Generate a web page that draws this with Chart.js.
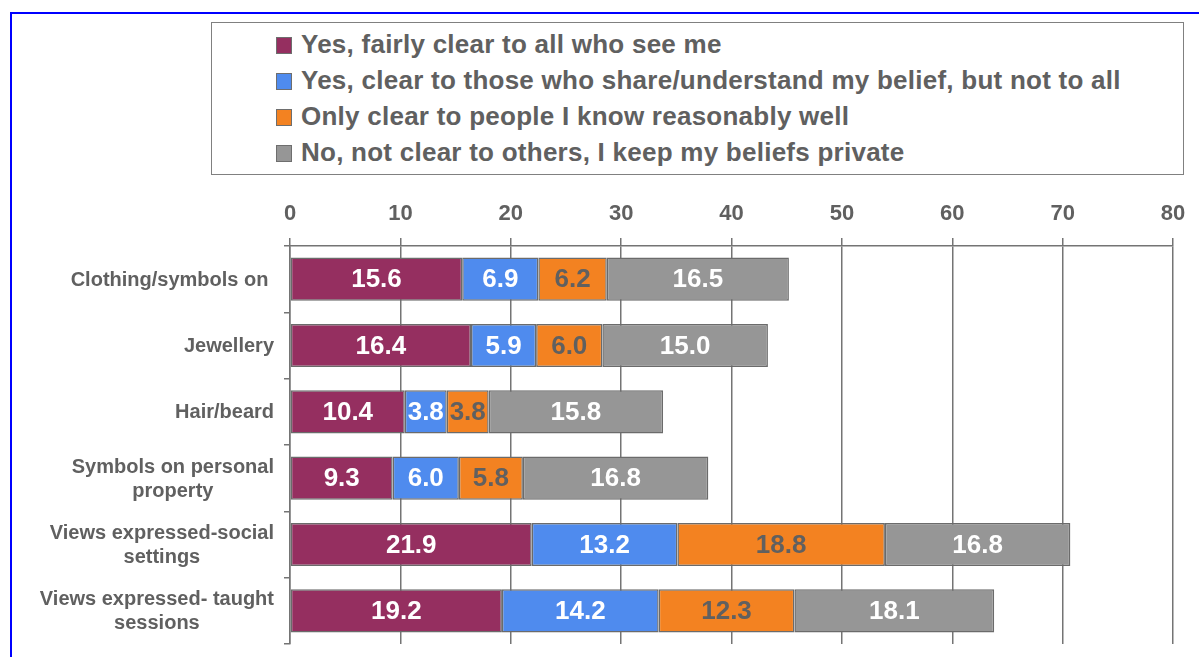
<!DOCTYPE html>
<html>
<head>
<meta charset="utf-8">
<script src="https://cdn.jsdelivr.net/npm/chart.js@4.4.1/dist/chart.umd.min.js"></script>
<style>
    html, body { margin: 0; padding: 0; background: #fff; overflow: hidden; }
    #wrap { position: relative; width: 1199px; height: 657px; }
    #frame {
        position: absolute; left: 10px; top: 12px; width: 1200px; height: 700px;
        border-left: 2px solid #0000ff; border-top: 2px solid #0000ff;
    }
    #chart { position: absolute; left: 0; top: 0; }
    #legend {
        position: absolute; left: 211px; top: 22px; width: 971px; height: 151px;
        border: 1.5px solid #808080; background: #fff;
        font-family: "Liberation Sans", Arial, sans-serif; font-weight: bold;
        font-size: 26px; letter-spacing: 0.25px; color: #606060;
    }
    #legend .item { position: absolute; left: 64px; height: 36px; line-height: 36px; white-space: nowrap; }
    #legend .box {
        position: absolute; left: 0; top: 10px; width: 14px; height: 15px;
        border: 1px solid #6e6e6e;
    }
    #legend .txt { position: absolute; left: 25px; top: -1px; }
</style>
</head>
<body>
<div id="wrap">
    <div id="frame"></div>
    <canvas id="chart" width="1199" height="657"></canvas>
    <div id="legend"></div>
</div>
<script>
const categories = [
    ['Clothing/symbols on '],
    ['Jewellery'],
    ['Hair/beard'],
    ['Symbols on personal', 'property'],
    ['Views expressed-social', 'settings'],
    ['Views expressed- taught', 'sessions']
];
const seriesNames = [
    'Yes, fairly clear to all who see me',
    'Yes, clear to those who share/understand my belief, but not to all',
    'Only clear to people I know reasonably well',
    'No, not clear to others, I keep my beliefs private'
];
const fairlyClear = [15.6, 16.4, 10.4, 9.3, 21.9, 19.2];
const clearToShared = [6.9, 5.9, 3.8, 6.0, 13.2, 14.2];
const knowWell = [6.2, 6.0, 3.8, 5.8, 18.8, 12.3];
const notClear = [16.5, 15.0, 15.8, 16.8, 16.8, 18.1];
const xTicks = [0, 10, 20, 30, 40, 50, 60, 70, 80];

const colors = ['#952f60', '#4f8bee', '#f38221', '#969696'];
const labelColors = ['#ffffff', '#ffffff', '#606060', '#ffffff'];
const textGray = '#606060';
const fontFamily = '"Liberation Sans", Arial, sans-serif';

const series = [fairlyClear, clearToShared, knowWell, notClear];

// value labels in the middle of each segment
const segmentLabels = {
    id: 'segmentLabels',
    afterDatasetsDraw(chart) {
        const ctx = chart.ctx;
        ctx.save();
        ctx.font = 'bold 26px ' + fontFamily;
        ctx.textAlign = 'center';
        ctx.textBaseline = 'middle';
        chart.data.datasets.forEach((ds, i) => {
            const meta = chart.getDatasetMeta(i);
            meta.data.forEach((bar, j) => {
                const p = bar.getCenterPoint();
                ctx.fillStyle = labelColors[i];
                ctx.fillText(ds.data[j].toFixed(1), p.x, p.y + 1);
            });
        });
        ctx.restore();
    }
};

// category names: block right-aligned, lines centred within the block
const categoryLabels = {
    id: 'categoryLabels',
    afterDraw(chart) {
        const ctx = chart.ctx;
        const yScale = chart.scales.y;
        const right = 274;
        const lh = 24;
        ctx.save();
        ctx.font = 'bold 20px ' + fontFamily;
        ctx.fillStyle = textGray;
        ctx.textAlign = 'center';
        ctx.textBaseline = 'middle';
        categories.forEach((lines, i) => {
            const y = yScale.getPixelForValue(i);
            const w = Math.max(...lines.map(l => ctx.measureText(l).width));
            const cx = right - w / 2;
            const y0 = y - (lines.length - 1) * lh / 2;
            lines.forEach((l, k) => ctx.fillText(l, cx, y0 + k * lh + 1));
        });
        ctx.restore();
    }
};

const chart = new Chart(document.getElementById('chart'), {
    type: 'bar',
    data: {
        labels: categories.map(c => c.join(' ')),
        datasets: series.map((values, i) => ({
            label: seriesNames[i],
            data: values,
            backgroundColor: colors[i],
            borderColor: '#6b6b6b',
            borderWidth: 1.5,
            borderSkipped: false,
            categoryPercentage: 1,
            barPercentage: 0.65
        }))
    },
    options: {
        indexAxis: 'y',
        responsive: false,
        animation: false,
        layout: { padding: { top: 190, right: 26, bottom: 13, left: 0 } },
        plugins: {
            legend: { display: false },
            tooltip: { enabled: false }
        },
        scales: {
            x: {
                position: 'top',
                stacked: true,
                min: 0,
                max: 80,
                afterBuildTicks: scale => { scale.ticks = xTicks.map(v => ({ value: v })); },
                afterFit: scale => { scale.height = 56; },
                grid: { color: '#747474', lineWidth: 1.5, tickLength: 8 },
                border: { color: '#747474', width: 1.5 },
                ticks: {
                    color: textGray,
                    padding: 11,
                    font: { family: fontFamily, size: 22, weight: 'bold' }
                }
            },
            y: {
                stacked: true,
                afterFit: scale => { scale.width = 290; },
                grid: { drawOnChartArea: false, color: '#747474', lineWidth: 1.5, tickLength: 6 },
                border: { color: '#747474', width: 1.5 },
                ticks: { display: false }
            }
        }
    },
    plugins: [segmentLabels, categoryLabels]
});

// legend rows built from the chart's datasets
const legend = document.getElementById('legend');
chart.data.datasets.forEach((ds, i) => {
    const row = document.createElement('div');
    row.className = 'item';
    row.style.top = (4 + i * 36) + 'px';
    const box = document.createElement('span');
    box.className = 'box';
    box.style.background = ds.backgroundColor;
    const txt = document.createElement('span');
    txt.className = 'txt';
    txt.textContent = ds.label;
    row.appendChild(box);
    row.appendChild(txt);
    legend.appendChild(row);
});
</script>
</body>
</html>
